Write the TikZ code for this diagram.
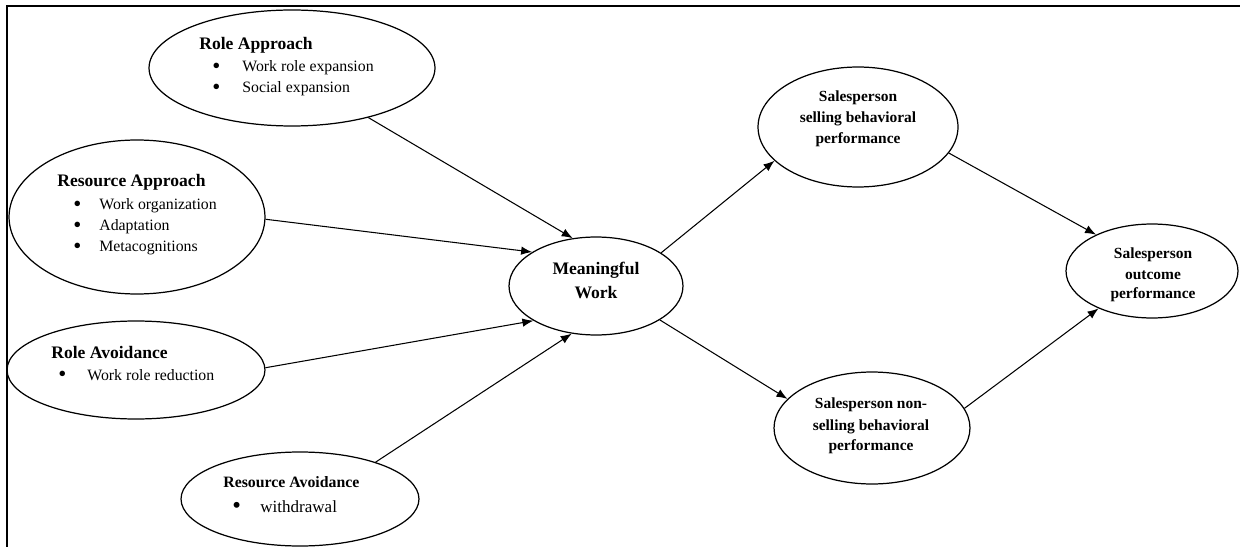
\documentclass[tikz,border=0pt]{standalone}
\usepackage{fontspec}
\setmainfont{Liberation Serif}
\usetikzlibrary{shapes.geometric,arrows.meta}
\newcommand{\myblt}[1]{\makebox[#1][l]{\smash{\raisebox{-0.9pt}{\scalebox{1.45}{\textbullet}}}}}
\begin{document}
\begin{tikzpicture}[x=0.02cm,y=-0.02cm,
 ell/.style={draw, ellipse, line width=0.7pt, inner sep=0pt},
 conn/.style={-{Latex[length=2.2mm,width=1.7mm]}, line width=0.6pt},
 hd/.style={anchor=base west, inner sep=0pt, font=\fontsize{10}{12}\selectfont\bfseries},
 hds/.style={anchor=base west, inner sep=0pt, font=\fontsize{9}{11}\selectfont\bfseries},
 itm/.style={anchor=base west, inner sep=0pt, font=\fontsize{9}{11}\selectfont},
 itl/.style={anchor=base west, inner sep=0pt, font=\fontsize{9.7}{11}\selectfont},
 ct/.style={anchor=base, inner sep=0pt, font=\fontsize{8.8}{10}\selectfont\bfseries},
 ctl/.style={anchor=base, inner sep=0pt, font=\fontsize{10}{12}\selectfont\bfseries},
]
\useasboundingbox (0,0) rectangle (1240,547);
\draw[line width=0.7pt] (7,547) -- (7,6) -- (1240,6);

% ellipses
\node[ell, minimum width=5.72cm, minimum height=2.32cm] (ra) at (292,68) {};
\node[ell, minimum width=5.12cm, minimum height=3.08cm] (resa) at (137,217) {};
\node[ell, minimum width=5.16cm, minimum height=1.96cm] (rav) at (136,370) {};
\node[ell, minimum width=4.76cm, minimum height=1.88cm] (resav) at (300,499) {};
\node[ell, minimum width=3.48cm, minimum height=1.96cm] (mw) at (596,286) {};
\node[ell, minimum width=4.00cm, minimum height=2.40cm] (sell) at (858,127) {};
\node[ell, minimum width=3.92cm, minimum height=2.24cm] (non) at (872,428) {};
\node[ell, minimum width=3.44cm, minimum height=1.88cm] (out) at (1152,271) {};

% Role Approach text
\node[hd] (raH) at (199,50) {Role Approach};
\node[itm] (raI1) at (212,72) {\myblt{0.6cm}Work role expansion};
\node[itm] (raI2) at (212,93) {\myblt{0.6cm}Social expansion};

% Resource Approach text
\node[hd] (resaH) at (57,187) {Resource Approach};
\node[itm] (resaI1) at (73,210) {\myblt{0.52cm}Work organization};
\node[itm] (resaI2) at (73,231) {\myblt{0.52cm}Adaptation};
\node[itm] (resaI3) at (73,252) {\myblt{0.52cm}Metacognitions};

% Role Avoidance text
\node[hd] (ravH) at (51,358) {Role Avoidance};
\node[itm] (ravI1) at (58,380) {\myblt{0.58cm}Work role reduction};

% Resource Avoidance text
\node[hds] (resavH) at (223,487) {Resource Avoidance};
\node[itl] (resavI1) at (232,512) {\myblt{0.56cm}withdrawal};

% Meaningful Work
\node[ctl] (mw1) at (596,275) {Meaningful};
\node[ctl] (mw2) at (596,298) {Work};

% Selling
\node[ct] (s1) at (858,102) {Salesperson};
\node[ct] (s2) at (858,123) {selling behavioral};
\node[ct] (s3) at (858,144) {performance};

% Non-selling
\node[ct] (n1) at (871,408) {Salesperson non-};
\node[ct] (n2) at (871,430) {selling behavioral};
\node[ct] (n3) at (871,450) {performance};

% Outcome
\node[ct] (o1) at (1153,258) {Salesperson};
\node[ct] (o2) at (1153,279) {outcome};
\node[ct] (o3) at (1153,298) {performance};

% connectors
\draw[conn] (ra.-33.7) -- (mw.116);
\draw[conn] (resa.-1.3) -- (mw.152.4);
\draw[conn] (rav.1.3) -- (mw.209.7);
\draw[conn] (resav.26.6) -- (mw.243);
\draw[conn] (mw.27.6) -- (sell.202.4);
\draw[conn] (mw.-28) -- (non.161.6);
\draw[conn] (sell.-16.6) -- (out.147.3);
\draw[conn] (non.12.7) -- (out.215.2);
\end{tikzpicture}
\end{document}
